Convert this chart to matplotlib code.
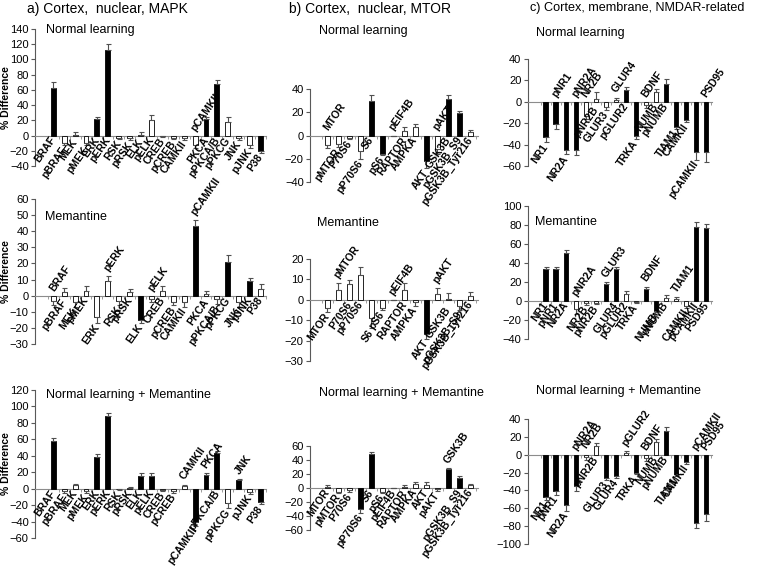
import matplotlib
matplotlib.use('Agg')
import matplotlib.pyplot as plt
import numpy as np

plt.rcParams['font.family'] = ['Liberation Sans', 'DejaVu Sans']

W, H = 760, 566

# ---------------- data ----------------
mapk_cats = ["BRAF", "pBRAF", "MEK", "pMEK", "ERK", "pERK", "RSK", "pRSK", "ELK", "pELK",
             "CREB", "pCREB", "CAMKII", "pCAMKII", "PKCA", "pPKCA/B", "pPKCG", "JNK", "pJNK", "P38"]
mapk_nl_val = [62, -10, 1, -10, 22, 112, -3, -3, 1, 20, -1, -3, -3, -13, 22, 68, 18, -3, -12, -20]
mapk_nl_err = [9, 3, 4, 3, 2, 8, 2, 3, 4, 7, 1, 2, 3, 4, 2, 5, 7, 3, 4, 3]
mapk_nl_sig = [1, 0, 0, 0, 1, 1, 0, 0, 0, 0, 0, 0, 0, 0, 1, 1, 0, 0, 0, 1]
mapk_mem_val = [-3, 2, -4, 3, -13, 9, -3, 2, -15, -2, 3, -4, -4, 43, 1, -2, 21, -4, 9, 4]
mapk_mem_err = [3, 3, 3, 3, 4, 3, 3, 2, 2, 2, 3, 2, 3, 4, 2, 3, 4, 3, 2, 3]
mapk_mem_sig = [0, 0, 0, 0, 0, 0, 0, 0, 1, 0, 0, 0, 0, 1, 0, 0, 1, 0, 1, 0]
mapk_nlm_val = [58, -3, 4, -3, 38, 88, -1, 1, 16, 16, -2, -3, 3, -40, 17, 43, -17, 11, -4, -16]
mapk_nlm_err = [4, 2, 2, 2, 4, 4, 1, 1, 3, 3, 1, 2, 2, 5, 2, 3, 6, 1, 2, 3]
mapk_nlm_sig = [1, 0, 0, 0, 1, 1, 0, 0, 1, 1, 0, 0, 0, 1, 1, 1, 0, 1, 0, 1]

mtor_cats = ["MTOR", "pMTOR", "P70S6", "pP70S6", "S6", "pS6", "pEIF4B", "RAPTOR", "AMPKA",
             "AKT", "pAKT", "GSK3B", "pGSK3B_S9", "pGSK3B_Tyr216"]
mtor_nl_val = [-8, -7, -2, -13, 30, -16, 0, 4, 7, -22, -12, 31, 19, 3]
mtor_nl_err = [3, 3, 1, 7, 5, 1, 0, 3, 3, 6, 4, 4, 2, 2]
mtor_nl_sig = [0, 0, 0, 0, 1, 1, 0, 0, 0, 1, 0, 1, 1, 0]
mtor_mem_val = [-4, 5, 7.5, 12, -9, -4, 0, 5, -1, -17, 3, 0.3, -3, 2]
mtor_mem_err = [2, 3, 2, 4, 5, 1, 0, 3, 2, 2, 3, 3, 2, 2]
mtor_mem_sig = [0, 0, 0, 0, 0, 0, 0, 0, 0, 1, 0, 0, 0, 0]
mtor_nlm_val = [2, -5, -3, -30, 48, -5, 0, 1, 6, 5, -2, 27, 14, 4]
mtor_nlm_err = [2, 2, 3, 5, 4, 2, 0, 3, 3, 3, 2, 1, 3, 2]
mtor_nlm_sig = [0, 0, 0, 1, 1, 0, 0, 0, 0, 0, 0, 1, 1, 0]

nmda_cats = ["NR1", "pNR1", "NR2A", "pNR2A", "NR2B", "pNR2B", "GLUR3", "GLUR4", "pGLUR2",
             "TRKA", "BDNF", "NUMB", "pNUMB", "TIAM1", "CAMKII", "pCAMKII", "PSD95"]
nmda_nl_val = [-33, -21, -45, -45, -13, 3, -5, 2, 11, -32, -3, 9, 17, -24, -17, -47, -47]
nmda_nl_err = [5, 4, 4, 5, 3, 6, 3, 2, 3, 3, 3, 3, 4, 1, 2, 7, 9]
nmda_nl_sig = [1, 1, 1, 1, 0, 0, 0, 0, 1, 1, 0, 0, 1, 1, 1, 1, 1]
nmda_mem_val = [34, 33, 50, -8, -2, -2, 18, 34, 7, -1, 13, -11, 3, 2, -5, 78, 77]
nmda_mem_err = [2, 3, 3, 6, 2, 1, 2, 2, 3, 1, 2, 1, 3, 2, 2, 5, 4]
nmda_mem_sig = [1, 1, 1, 0, 0, 0, 1, 1, 0, 0, 1, 1, 0, 0, 0, 1, 1]
nmda_nlm_val = [-48, -41, -57, -35, -2, 10, -26, -24, 2, -20, -4, 14, 27, -22, -8, -77, -67]
nmda_nlm_err = [3, 4, 6, 6, 4, 3, 2, 2, 2, 2, 3, 4, 4, 2, 2, 5, 7]
nmda_nlm_sig = [1, 1, 1, 1, 0, 0, 1, 1, 0, 1, 0, 0, 1, 1, 1, 1, 1]

# labels drawn above the zero line (layout of the original figure)
mapk_nl_above = ["pCAMKII"]
mapk_mem_above = ["BRAF", "pERK", "pELK", "pCAMKII"]
mapk_nlm_above = ["CAMKII", "PKCA", "JNK"]
mtor_nl_above = ["MTOR", "pEIF4B", "pAKT"]
mtor_mem_above = ["pMTOR", "pEIF4B", "pAKT"]
mtor_nlm_above = ["GSK3B"]
nmda_nl_above = ["pNR1", "pNR2A", "NR2B", "GLUR4", "BDNF", "PSD95"]
nmda_mem_above = ["pNR2A", "GLUR3", "BDNF", "TIAM1"]
nmda_nlm_above = ["pNR2A", "NR2B", "pGLUR2", "BDNF", "pCAMKII", "PSD95"]

fig = plt.figure(figsize=(W / 100, H / 100), dpi=100)


def add_panel(cats, vals, errs, sig, above, ylims, ystep, box, xlim):
    l, t, r, b = box
    ax = fig.add_axes([l / W, 1 - b / H, (r - l) / W, (b - t) / H])
    x = np.arange(len(cats))
    v = np.array(vals, float)
    e = np.array(errs, float)
    colors = ['black' if s else 'white' for s in sig]
    ax.bar(x, v, width=0.45, color=colors, edgecolor='black', linewidth=0.6, zorder=3)
    lower = np.where(v < 0, e, 0)
    upper = np.where(v >= 0, e, 0)
    ax.errorbar(x, v, yerr=[lower, upper], fmt='none', ecolor='#505050',
                elinewidth=0.8, capsize=1.8, capthick=0.8, zorder=4)
    ax.set_xlim(*xlim)
    ax.set_ylim(*ylims)
    ax.set_yticks(np.arange(ylims[0], ylims[1] + 0.1, ystep))
    ax.tick_params(axis='y', labelsize=8, length=3, width=0.8, color='#595959', pad=1.5)
    ax.spines['top'].set_visible(False)
    ax.spines['right'].set_visible(False)
    ax.spines['left'].set_color('#595959')
    ax.spines['left'].set_linewidth(0.8)
    ax.spines['bottom'].set_position(('data', 0))
    ax.spines['bottom'].set_color('#8c8c8c')
    ax.spines['bottom'].set_linewidth(0.8)
    ax.set_xticks(np.arange(-0.5, len(cats), 1.0))
    ax.tick_params(axis='x', length=2, width=0.6, color='#8c8c8c', labelbottom=False)
    ax.patch.set_alpha(0)
    for i, name in enumerate(cats):
        if name in above:
            y0 = max(0.0, v[i] + e[i])
            ax.annotate(name, xy=(i, y0), xytext=(0.5, 3), textcoords='offset points',
                        rotation=55, rotation_mode='anchor', ha='left', va='baseline',
                        fontsize=7.5, fontweight='bold', zorder=5, annotation_clip=False)
        else:
            y0 = min(0.0, v[i] - e[i])
            ax.annotate(name, xy=(i, y0), xytext=(2, -3), textcoords='offset points',
                        rotation=55, rotation_mode='anchor', ha='right', va='baseline',
                        fontsize=7.5, fontweight='bold', zorder=5, annotation_clip=False)
    return ax


xa = (-1.68, 19.5)
xb = (-1.55, 13.7)
xc = (-1.8, 16.6)

add_panel(mapk_cats, mapk_nl_val, mapk_nl_err, mapk_nl_sig, mapk_nl_above, (-40, 140), 20, (35, 29, 266, 166), xa)
add_panel(mapk_cats, mapk_mem_val, mapk_mem_err, mapk_mem_sig, mapk_mem_above, (-30, 60), 10, (35, 199, 266, 344), xa)
add_panel(mapk_cats, mapk_nlm_val, mapk_nlm_err, mapk_nlm_sig, mapk_nlm_above, (-60, 120), 20, (35, 390, 266, 538), xa)

add_panel(mtor_cats, mtor_nl_val, mtor_nl_err, mtor_nl_sig, mtor_nl_above, (-40, 40), 20, (310, 89, 478, 182), xb)
add_panel(mtor_cats, mtor_mem_val, mtor_mem_err, mtor_mem_sig, mtor_mem_above, (-30, 20), 10, (310, 259, 478, 361), xb)
add_panel(mtor_cats, mtor_nlm_val, mtor_nlm_err, mtor_nlm_sig, mtor_nlm_above, (-60, 60), 20, (310, 446, 478, 530), xb)

add_panel(nmda_cats, nmda_nl_val, nmda_nl_err, nmda_nl_sig, nmda_nl_above, (-60, 40), 20, (527.7, 59, 712, 166), xc)
add_panel(nmda_cats, nmda_mem_val, nmda_mem_err, nmda_mem_sig, nmda_mem_above, (-40, 100), 20, (527.7, 205.7, 712, 339), xc)
add_panel(nmda_cats, nmda_nlm_val, nmda_nlm_err, nmda_nlm_sig, nmda_nlm_above, (-100, 40), 20, (527.7, 419.3, 712, 543.7), xc)


def ftext(px, py, s, **kw):
    fig.text(px / W, 1 - py / H, s, **kw)


ftext(27, 8.5, "a) Cortex,  nuclear, MAPK", fontsize=10, ha='left', va='center')
ftext(289, 8.5, "b) Cortex,  nuclear, MTOR", fontsize=10, ha='left', va='center')
ftext(530, 8.5, "c) Cortex, membrane, NMDAR-related", fontsize=9.1, ha='left', va='center')

sub = [(45.7, 29.5, "Normal learning"), (45, 217.3, "Memantine"), (45.7, 395, "Normal learning + Memantine"),
       (319, 31, "Normal learning"), (316.7, 222.7, "Memantine"), (318.7, 392.7, "Normal learning + Memantine"),
       (535.7, 33, "Normal learning"), (535, 221.7, "Memantine"), (535.7, 390.7, "Normal learning + Memantine")]
for px, py, s in sub:
    ftext(px, py, s, fontsize=9, ha='left', va='center')

for cy in [(29 + 166) / 2, (199 + 344) / 2, (390 + 538) / 2]:
    ftext(6, cy, "% Difference", fontsize=7.5, fontweight='bold', rotation=90, ha='center', va='center')

fig.savefig('out.png', dpi=100)
